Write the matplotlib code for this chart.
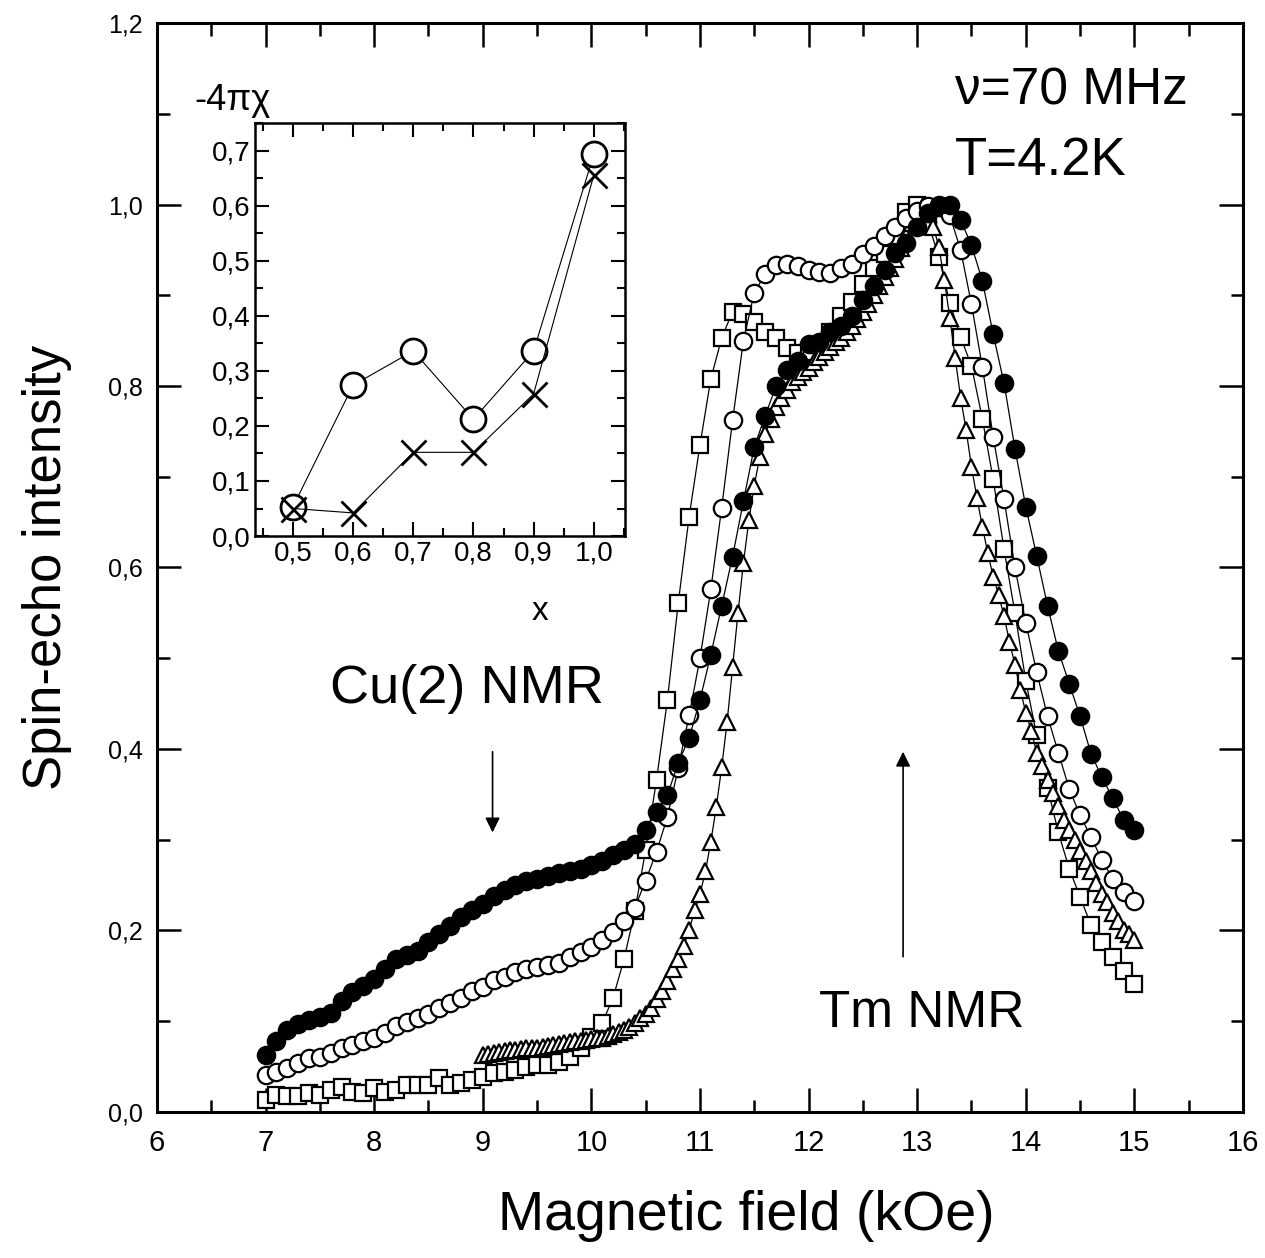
import matplotlib
matplotlib.use("Agg")
import matplotlib.pyplot as plt
import numpy as np
from matplotlib import font_manager
from matplotlib.ticker import MultipleLocator, FuncFormatter

# ---- main plot data (field in kOe, normalised spin-echo intensity) ----
# filled circles
fc_x = [7.0, 7.1, 7.2, 7.3, 7.4, 7.5, 7.6, 7.7, 7.8, 7.9, 8.0, 8.1, 8.2, 8.3, 8.4, 8.5, 8.6, 8.7, 8.8, 8.9,
        9.0, 9.1, 9.2, 9.3, 9.4, 9.5, 9.6, 9.7, 9.8, 9.9, 10.0, 10.1, 10.2, 10.3, 10.4, 10.5, 10.6, 10.7, 10.8, 10.9,
        11.0, 11.1, 11.2, 11.3, 11.4, 11.5, 11.6, 11.7, 11.8, 11.9, 12.0, 12.1, 12.2, 12.3, 12.4, 12.5, 12.6, 12.7, 12.8, 12.9,
        13.0, 13.1, 13.2, 13.3, 13.4, 13.5, 13.6, 13.7, 13.8, 13.9, 14.0, 14.1, 14.2, 14.3, 14.4, 14.5, 14.6, 14.7, 14.8, 14.9, 15.0]
fc_y = [0.063, 0.078, 0.090, 0.097, 0.101, 0.105, 0.109, 0.122, 0.132, 0.139, 0.147, 0.158, 0.168, 0.173, 0.177, 0.187, 0.196, 0.205, 0.215, 0.222,
        0.229, 0.238, 0.245, 0.250, 0.254, 0.257, 0.260, 0.263, 0.266, 0.268, 0.272, 0.277, 0.283, 0.289, 0.295, 0.311, 0.331, 0.349, 0.385, 0.412,
        0.454, 0.504, 0.558, 0.612, 0.673, 0.733, 0.767, 0.800, 0.818, 0.827, 0.846, 0.849, 0.859, 0.866, 0.877, 0.895, 0.910, 0.928, 0.947, 0.958,
        0.975, 0.991, 1.000, 1.000, 0.983, 0.955, 0.916, 0.857, 0.803, 0.731, 0.667, 0.613, 0.558, 0.508, 0.472, 0.436, 0.395, 0.369, 0.346, 0.322, 0.311]

# open circles
oc_x = fc_x
oc_y = [0.041, 0.044, 0.048, 0.054, 0.059, 0.061, 0.065, 0.070, 0.074, 0.078, 0.082, 0.087, 0.095, 0.099, 0.104, 0.108, 0.115, 0.120, 0.126, 0.133,
        0.138, 0.145, 0.149, 0.154, 0.158, 0.160, 0.162, 0.164, 0.171, 0.176, 0.182, 0.190, 0.198, 0.210, 0.225, 0.255, 0.287, 0.325, 0.379, 0.437,
        0.500, 0.576, 0.666, 0.762, 0.850, 0.903, 0.923, 0.933, 0.934, 0.932, 0.928, 0.926, 0.925, 0.930, 0.934, 0.945, 0.954, 0.965, 0.975, 0.985,
        0.993, 0.998, 0.997, 0.988, 0.950, 0.890, 0.821, 0.744, 0.675, 0.600, 0.539, 0.485, 0.436, 0.396, 0.356, 0.327, 0.303, 0.278, 0.257, 0.242, 0.232]

# open squares
sq_x = fc_x
sq_y = [0.013, 0.019, 0.018, 0.018, 0.021, 0.019, 0.024, 0.028, 0.022, 0.021, 0.026, 0.022, 0.024, 0.030, 0.030, 0.030, 0.037, 0.030, 0.032, 0.035,
        0.039, 0.043, 0.044, 0.046, 0.050, 0.052, 0.052, 0.055, 0.060, 0.071, 0.083, 0.098, 0.126, 0.168, 0.221, 0.289, 0.366, 0.454, 0.561, 0.656,
        0.735, 0.808, 0.853, 0.882, 0.879, 0.870, 0.860, 0.853, 0.842, 0.836, 0.838, 0.845, 0.860, 0.877, 0.893, 0.912, 0.930, 0.945, 0.965, 0.992,
        1.000, 0.980, 0.942, 0.892, 0.854, 0.822, 0.764, 0.697, 0.620, 0.550, 0.475, 0.415, 0.357, 0.308, 0.268, 0.237, 0.206, 0.187, 0.171, 0.155, 0.141]

# open triangles (denser field steps)
tr_x = [9.0, 9.05, 9.1, 9.15, 9.2, 9.25, 9.3, 9.35, 9.4, 9.45, 9.5, 9.55, 9.6, 9.65, 9.7, 9.75, 9.8, 9.85, 9.9, 9.95,
        10.0, 10.05, 10.1, 10.15, 10.2, 10.25, 10.3, 10.35, 10.4, 10.45, 10.5, 10.55, 10.6, 10.65, 10.7, 10.75, 10.8, 10.85, 10.9, 10.95,
        11.0, 11.05, 11.1, 11.15, 11.2, 11.25, 11.3, 11.35, 11.4, 11.45, 11.5, 11.55, 11.6, 11.65, 11.7, 11.75, 11.8, 11.85, 11.9, 11.95,
        12.0, 12.05, 12.1, 12.15, 12.2, 12.25, 12.3, 12.35, 12.4, 12.45, 12.5, 12.55, 12.6, 12.65, 12.7, 12.75, 12.8, 12.85, 12.9, 12.95,
        13.0, 13.05, 13.1, 13.15, 13.2, 13.25, 13.3, 13.35, 13.4, 13.45, 13.5, 13.55, 13.6, 13.65, 13.7, 13.75, 13.8, 13.85, 13.9, 13.95,
        14.0, 14.05, 14.1, 14.15, 14.2, 14.25, 14.3, 14.35, 14.4, 14.45, 14.5, 14.55, 14.6, 14.65, 14.7, 14.75, 14.8, 14.85, 14.9, 14.95, 15.0]
tr_y = [0.063, 0.064, 0.065, 0.066, 0.067, 0.068, 0.068, 0.069, 0.070, 0.071, 0.071, 0.072, 0.073, 0.074, 0.075, 0.076, 0.077, 0.078, 0.078, 0.079,
        0.080, 0.081, 0.082, 0.084, 0.086, 0.088, 0.090, 0.094, 0.098, 0.104, 0.108, 0.115, 0.124, 0.133, 0.144, 0.157, 0.168, 0.183, 0.200, 0.222,
        0.240, 0.265, 0.298, 0.336, 0.380, 0.430, 0.490, 0.550, 0.605, 0.652, 0.690, 0.722, 0.747, 0.764, 0.777, 0.787, 0.796, 0.804, 0.810, 0.815,
        0.820, 0.826, 0.832, 0.838, 0.843, 0.848, 0.853, 0.860, 0.866, 0.874, 0.882, 0.890, 0.900, 0.910, 0.920, 0.930, 0.940, 0.952, 0.965, 0.980,
        0.993, 0.998, 0.990, 0.975, 0.953, 0.917, 0.875, 0.831, 0.787, 0.752, 0.711, 0.677, 0.645, 0.616, 0.590, 0.570, 0.546, 0.518, 0.493, 0.465,
        0.440, 0.420, 0.396, 0.381, 0.366, 0.352, 0.337, 0.322, 0.311, 0.300, 0.288, 0.276, 0.265, 0.252, 0.240, 0.231, 0.219, 0.210, 0.200, 0.196, 0.190]

# ---- inset data: -4*pi*chi versus x ----
ins_x = [0.5, 0.6, 0.7, 0.8, 0.9, 1.0]
ins_circ = [0.053, 0.274, 0.336, 0.212, 0.336, 0.693]
ins_cross = [0.050, 0.042, 0.152, 0.152, 0.258, 0.655]

# fonts
names = {f.name for f in font_manager.fontManager.ttflist}
narrow = "Liberation Sans Narrow" if "Liberation Sans Narrow" in names else "Liberation Sans"
plt.rcParams["font.family"] = ["Liberation Sans", "DejaVu Sans"]

comma = FuncFormatter(lambda v, p: ("%.1f" % v).replace(".", ","))

fig = plt.figure(figsize=(12.65, 12.58), dpi=100)
ax = fig.add_axes([0.1241, 0.1161, 0.8585, 0.8656])

line_kw = dict(color="black", lw=0.9, mec="black", mew=1.6)
ax.plot(sq_x, sq_y, marker="s", ms=11.5, mfc="white", **line_kw)
ax.plot(tr_x, tr_y, marker="^", ms=12, mfc="white", **line_kw)
ax.plot(oc_x, oc_y, marker="o", ms=12.5, mfc="white", **line_kw)
ax.plot(fc_x, fc_y, marker="o", ms=12.5, mfc="black", **line_kw)

ax.set_xlim(6, 16)
ax.set_ylim(0, 1.2)
ax.xaxis.set_major_locator(MultipleLocator(1))
ax.xaxis.set_minor_locator(MultipleLocator(0.5))
ax.yaxis.set_major_locator(MultipleLocator(0.2))
ax.yaxis.set_minor_locator(MultipleLocator(0.1))
ax.yaxis.set_major_formatter(comma)
ax.tick_params(which="both", direction="in", top=True, right=True, width=1.8)
ax.tick_params(which="major", length=17)
ax.tick_params(which="minor", length=9)
ax.tick_params(axis="x", which="major", labelsize=21, pad=12)
ax.tick_params(axis="y", which="major", labelsize=18, pad=10)
for lab in ax.get_xticklabels():
    lab.set_family(narrow)
for s in ax.spines.values():
    s.set_linewidth(2.2)

ax.set_xlabel("Magnetic field (kOe)", fontsize=40, family=narrow)
ax.xaxis.set_label_coords(0.543, -0.072)
ax.set_ylabel("Spin-echo intensity", fontsize=38, labelpad=26)

ax.text(13.35, 1.11, "\u03bd=70 MHz", fontsize=37)
ax.text(13.35, 1.033, "T=4.2K", fontsize=38)
ax.text(7.59, 0.451, "Cu(2) NMR", fontsize=39)
ax.text(12.1, 0.094, "Tm NMR", fontsize=37)
ax.annotate("", xy=(9.09, 0.305), xytext=(9.09, 0.40),
            arrowprops=dict(arrowstyle="-|>", color="black", lw=1.2, mutation_scale=22))
ax.annotate("", xy=(12.87, 0.40), xytext=(12.87, 0.168),
            arrowprops=dict(arrowstyle="-|>", color="black", lw=1.2, mutation_scale=22))

# ---- inset ----
axi = fig.add_axes([0.2016, 0.5739, 0.2925, 0.3283])
axi.plot(ins_x, ins_circ, marker="o", ms=18, mfc="white", mec="black", mew=2, color="black", lw=0.8)
axi.plot(ins_x, ins_cross, marker="x", ms=18, mec="black", mew=2, color="black", lw=0.8)
axi.set_xlim(0.437, 1.052)
axi.set_ylim(0, 0.75)
axi.xaxis.set_major_locator(MultipleLocator(0.1))
axi.xaxis.set_minor_locator(MultipleLocator(0.05))
axi.yaxis.set_major_locator(MultipleLocator(0.1))
axi.yaxis.set_minor_locator(MultipleLocator(0.05))
axi.xaxis.set_major_formatter(comma)
axi.yaxis.set_major_formatter(comma)
axi.tick_params(which="both", direction="in", top=True, right=True, width=1.5, labelsize=20)
axi.tick_params(which="major", length=10)
axi.tick_params(which="minor", length=6)
for s in axi.spines.values():
    s.set_linewidth(1.8)
axi.set_xlabel("x", fontsize=24)
axi.xaxis.set_label_coords(0.77, -0.145)
fig.text(0.154, 0.9126, "-4\u03c0\u03c7", fontsize=26)

fig.savefig("out.png", dpi=100)
